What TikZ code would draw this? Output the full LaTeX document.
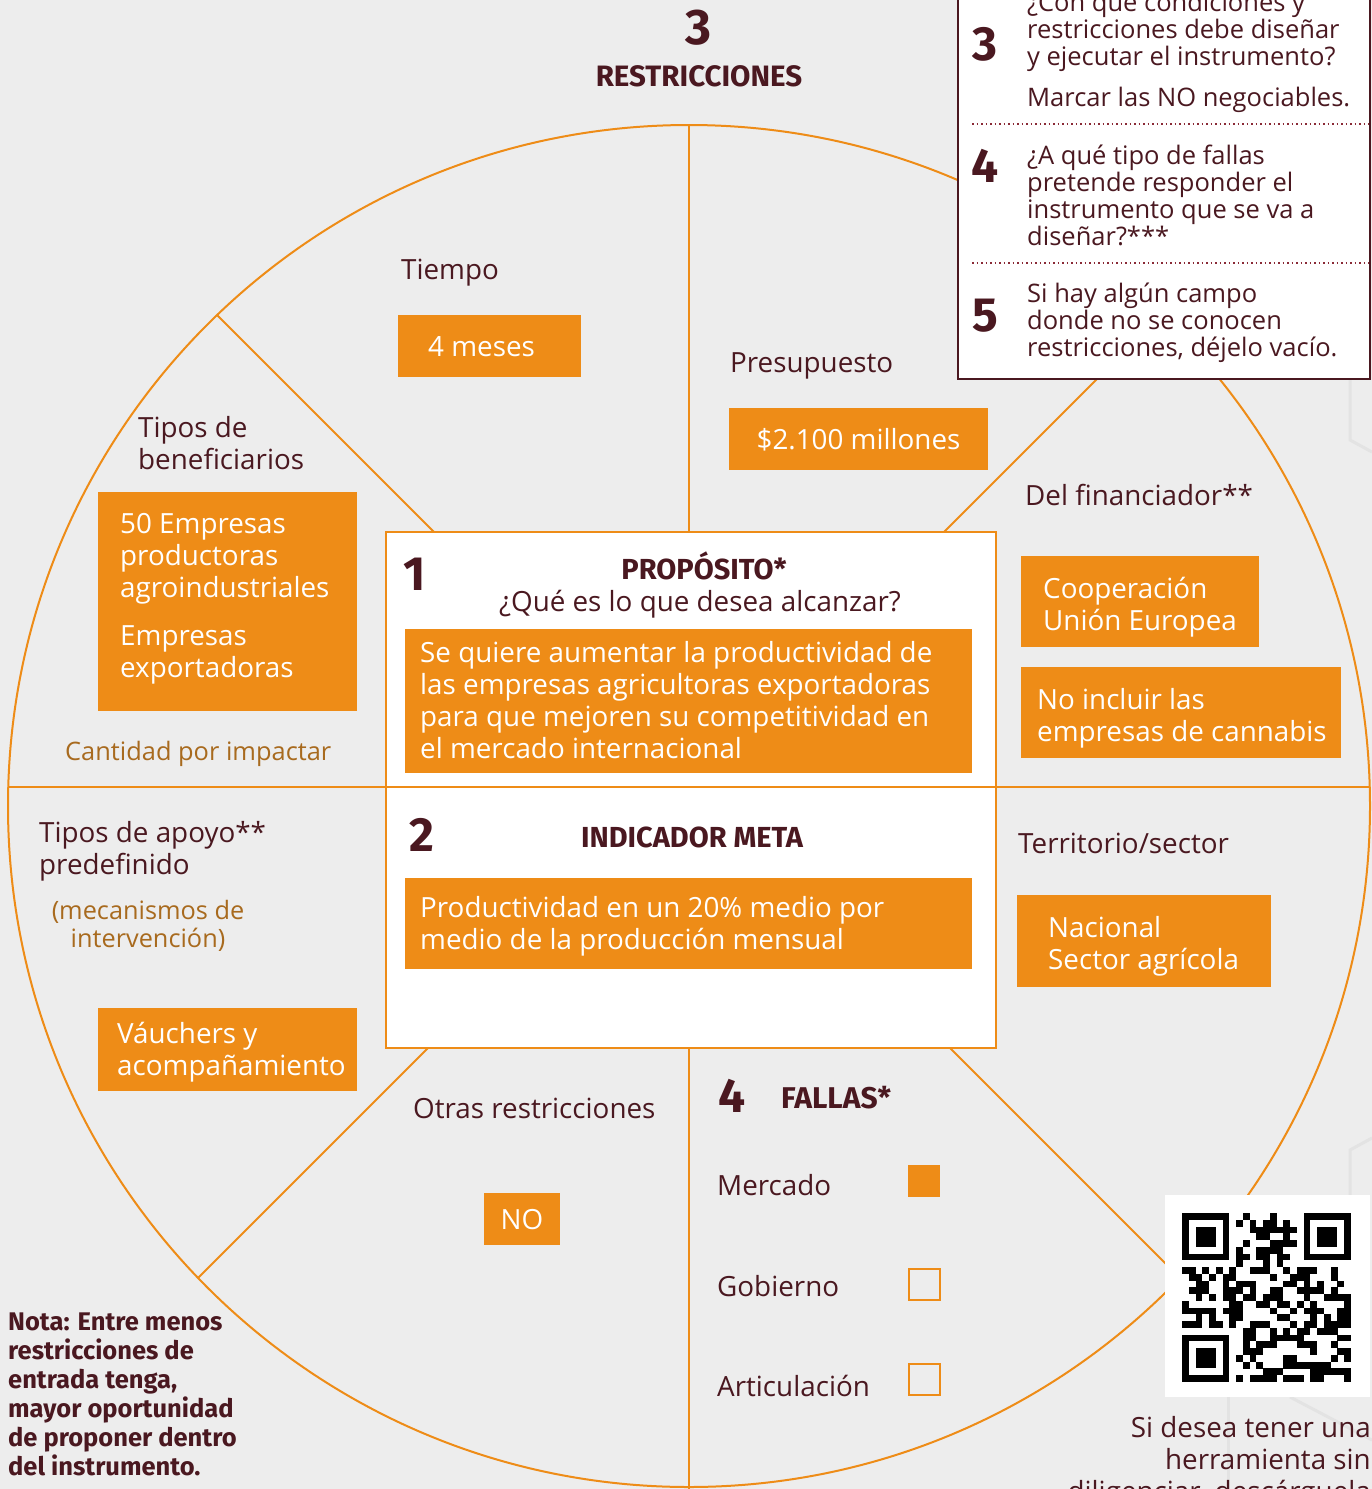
\documentclass[tikz,border=0pt]{standalone}
\usepackage{fontspec}
\setmainfont{Open Sans}
\newfontfamily\hdfont{Fira Sans}
\definecolor{bgc}{HTML}{EDEDED}
\definecolor{org}{HTML}{EE8C17}
\definecolor{dk}{HTML}{4A1820}
\definecolor{brn}{HTML}{A86A1E}
\definecolor{fnt}{HTML}{E3E3E3}
\definecolor{dotc}{HTML}{8A2A36}
\begin{document}
\begin{tikzpicture}[x=1pt,y=-1pt,
  ol/.style={draw=org, line width=2pt},
  lbl/.style={text=dk, font=\fontsize{27.8}{32}\selectfont, align=left, anchor=west, inner sep=0pt, yshift=-4pt, execute at begin node=\strut, execute at end node=\strut},
  wlbl/.style={lbl, text=white},
  blbl/.style={lbl, text=brn, font=\fontsize{25.4}{32}\selectfont},
  trt/.style={lbl, font=\fontsize{25.5}{27}\selectfont},
  obox/.style={fill=org, inner sep=0pt, outer sep=0pt, anchor=north west},
  num/.style={text=dk, font=\hdfont\bfseries\fontsize{48}{48}\selectfont, inner sep=0pt, anchor=base},
  head/.style={text=dk, font=\hdfont\bfseries\fontsize{29}{30}\selectfont, inner sep=0pt, anchor=base},
  faint/.style={draw=fnt, line width=3pt}]
\useasboundingbox (0,0) rectangle (1372,1489);
\fill[bgc] (0,0) rectangle (1372,1489);
\begin{scope}
\clip (0,0) rectangle (1372,1489);
% faint background decoration
\draw[faint] (1350,330) -- (1350,440) -- (1372,452);
\draw[faint] (1372,1138) -- (1350,1150) -- (1350,1200);
\draw[faint] (1228,1397) -- (1228,1489);
\draw[faint] (1290,1397) -- (1372,1440);
% wheel
\coordinate (O) at (689,787);
\coordinate (C) at (689,806);
\draw[ol] (C) circle [radius=681pt];
\draw[ol] (O) -- (689,125);
\draw[ol] (O) -- (689,1489);
\draw[ol] (O) -- (8.3,787);
\draw[ol] (O) -- (1369.7,787);
\draw[ol] (O) -- (217,315);
\draw[ol] (O) -- (1161,315);
\draw[ol] (O) -- (198,1278);
\draw[ol] (O) -- (1180,1278);
% top title
\node[num, font=\hdfont\bfseries\fontsize{50}{50}\selectfont] (ntop) at (698,44) {3};
\node[head, font=\hdfont\bfseries\fontsize{29.5}{30}\selectfont] (restr) at (699,86) {RESTRICCIONES};
% central box
\node[draw=org, line width=2pt, fill=white, minimum width=610pt, minimum height=516pt, anchor=north west, inner sep=0pt] (core) at (385,531) {};
\draw[ol] (385,787) -- (995,787);
\node[num] (n1) at (415,590) {1};
\node[head] (prop) at (704,579) {PROPÓSITO*};
\node[lbl, anchor=center, align=center] (quest) at (700,601) {¿Qué es lo que desea alcanzar?};
\node[obox, minimum width=567pt, minimum height=144pt] (bProp) at (405,629) {};
\node[wlbl] (tProp) at ([xshift=15pt]bProp.west) {Se quiere aumentar la productividad de\\las empresas agricultoras exportadoras\\para que mejoren su competitividad en\\el mercado internacional};
\node[num] (n2) at (422,851) {2};
\node[head] (indic) at (692,847) {INDICADOR META};
\node[obox, minimum width=567pt, minimum height=91pt] (bInd) at (405,878) {};
\node[wlbl] (tInd) at ([xshift=15pt]bInd.west) {Productividad en un 20\% medio por\\medio de la producción mensual};
% sectors
\node[lbl] (tiempo) at (401,269) {Tiempo};
\node[obox, minimum width=183pt, minimum height=62pt] (bTiempo) at (398,315) {};
\node[wlbl] (tTiempo) at ([xshift=30pt]bTiempo.west) {4 meses};
\node[lbl] (presup) at (730,362) {Presupuesto};
\node[obox, minimum width=259pt, minimum height=62pt] (bPres) at (729,408) {};
\node[wlbl, anchor=center] (tPres) at (bPres.center) {\$2.100 millones};
\node[lbl] (benef) at (138,444) {Tipos de\\beneficiarios};
\node[obox, minimum width=259pt, minimum height=219pt] (bBenef) at (98,492) {};
\node[wlbl, yshift=5pt] (tBenef) at ([xshift=22pt]bBenef.west) {50 Empresas\\productoras\\agroindustriales\\[16pt]Empresas\\exportadoras};
\node[blbl] (cant) at (65,750) {Cantidad por impactar};
\node[lbl] (financ) at (1025,495) {Del financiador**};
\node[obox, minimum width=238pt, minimum height=91pt] (bCoop) at (1021,556) {};
\node[wlbl, yshift=-3pt] (tCoop) at ([xshift=22pt]bCoop.west) {Cooperación\\Unión Europea};
\node[obox, minimum width=320pt, minimum height=91pt] (bCann) at (1021,667) {};
\node[wlbl, yshift=-3pt] (tCann) at ([xshift=16pt]bCann.west) {No incluir las\\empresas de cannabis};
\node[lbl] (territ) at (1018,843) {Territorio/sector};
\node[obox, minimum width=254pt, minimum height=92pt] (bTerr) at (1017,895) {};
\node[wlbl, yshift=-3pt] (tTerr) at ([xshift=31pt]bTerr.west) {Nacional\\Sector agrícola};
\node[lbl] (apoyo) at (39,849) {Tipos de apoyo**\\predefinido};
\node[blbl, font=\fontsize{25.3}{28}\selectfont, anchor=center, align=center] (mecan) at (148,924) {(mecanismos de\\intervención)};
\node[obox, minimum width=259pt, minimum height=83pt] (bVau) at (98,1008) {};
\node[wlbl] (tVau) at ([xshift=19pt]bVau.west) {Váuchers y\\acompañamiento};
\node[lbl] (otras) at (413,1108) {Otras restricciones};
\node[obox, minimum width=76pt, minimum height=52pt] (bNO) at (484,1193) {};
\node[wlbl, anchor=center] (tNO) at (bNO.center) {NO};
% fallas
\node[num] (n4) at (732,1112) {4};
\node[head, anchor=base west, font=\hdfont\bfseries\fontsize{30}{30}\selectfont] (fallas) at (781,1108) {FALLAS*};
\node[lbl] (merc) at (717,1185) {Mercado};
\node[lbl] (gob) at (717,1286) {Gobierno};
\node[lbl] (artic) at (717,1386) {Articulación};
\node[fill=org, minimum size=32pt, inner sep=0pt, anchor=north west] (sqM) at (908,1165) {};
\node[draw=org, line width=2pt, minimum size=31pt, inner sep=0pt, anchor=north west] (sqG) at (908,1268) {};
\node[draw=org, line width=2pt, minimum size=31pt, inner sep=0pt, anchor=north west] (sqA) at (908,1363) {};
% top-right info box
\node[fill=white, draw=dk, line width=2pt, minimum width=412pt, minimum height=400pt, inner sep=0pt, anchor=south west] (qbox) at (957,380) {};
\draw[dotc, line width=1.5pt, dash pattern=on 1.5pt off 3pt] (972,124) -- (1369,124);
\draw[dotc, line width=1.5pt, dash pattern=on 1.5pt off 3pt] (972,263) -- (1369,263);
\node[num] (q3) at (985,60) {3};
\node[num] (q4) at (985,182) {4};
\node[num] (q5) at (985,331) {5};
\node[trt] (qt3) at (1027,29) {¿Con qué condiciones y\\restricciones debe diseñar\\y ejecutar el instrumento?};
\node[trt] (qt3b) at (1027,97) {Marcar las NO negociables.};
\node[trt] (qt4) at (1027,195) {¿A qué tipo de fallas\\pretende responder el\\instrumento que se va a\\diseñar?***};
\node[trt] (qt5) at (1027,320) {Si hay algún campo\\donde no se conocen\\restricciones, déjelo vacío.};
% note
\node[lbl, text=dk, font=\hdfont\bfseries\fontsize{25.5}{29}\selectfont] (nota) at (8,1394) {Nota: Entre menos\\restricciones de\\entrada tenga,\\mayor oportunidad\\de proponer dentro\\del instrumento.};
% QR
\node[fill=white, minimum width=205pt, minimum height=202pt, inner sep=0pt, anchor=north west] (qrbg) at (1165,1195) {};
\pgfmathsetseed{4711}
\foreach \i in {0,...,24}{\foreach \j in {0,...,24}{
  \pgfmathtruncatemacro\inf{ifthenelse(or(and(\i<8,\j<8),or(and(\i>16,\j<8),and(\i<8,\j>16))),1,0)}
  \pgfmathtruncatemacro\v{rnd*100}
  \ifnum\inf=0 \ifnum\v<54 \fill[black] (1182+\i*6.76,1213+\j*6.76) rectangle ++(6.8,6.8);\fi\fi
}}
\foreach \a/\b in {0/0,18/0,0/18}{
  \fill[black] (1182+\a*6.76,1213+\b*6.76) rectangle ++(47.32,47.32);
  \fill[white] (1182+\a*6.76+6.76,1213+\b*6.76+6.76) rectangle ++(33.8,33.8);
  \fill[black] (1182+\a*6.76+13.52,1213+\b*6.76+13.52) rectangle ++(20.28,20.28);
}
\node[lbl, anchor=east, align=right] (dl) at (1371,1460) {Si desea tener una\\herramienta sin\\diligenciar, descárguela};
\end{scope}
\end{tikzpicture}
\end{document}
